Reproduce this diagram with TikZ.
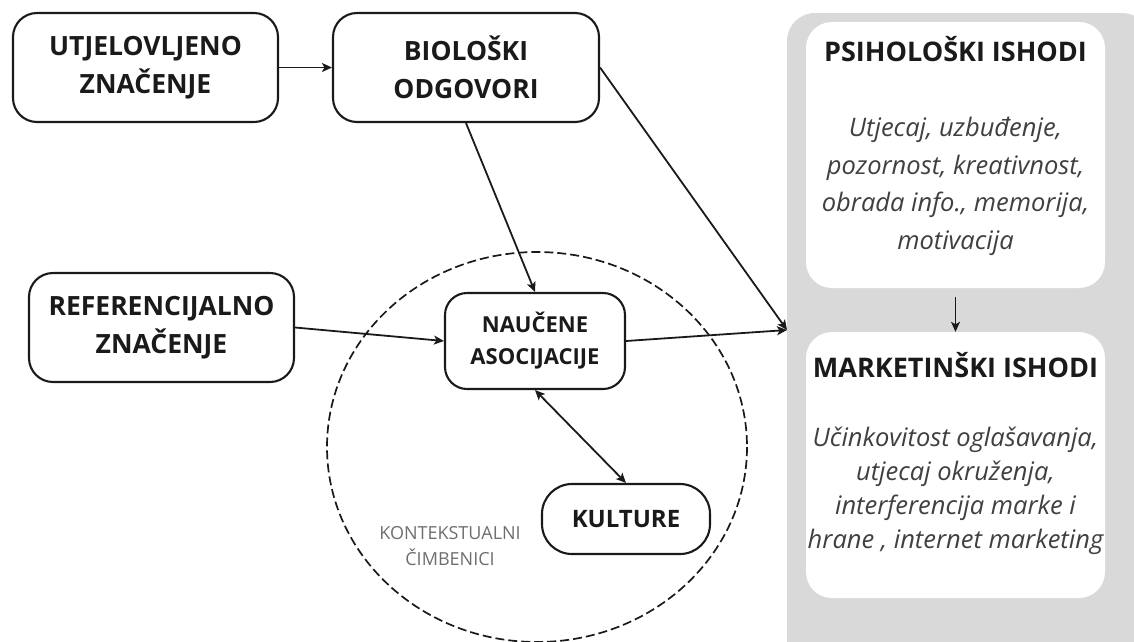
\documentclass[tikz,border=0pt]{standalone}
\usepackage{fontspec}
\setmainfont{Open Sans}
\usepackage{tikz}
\usetikzlibrary{arrows.meta}

\definecolor{panelgray}{HTML}{D9D9D9}
\definecolor{ink}{HTML}{1A1A1A}
\definecolor{bodygray}{HTML}{404040}
\definecolor{notegray}{HTML}{6E6E6E}

\tikzset{
  box/.style={draw=ink, line width=2.1pt, rounded corners=24pt, fill=white, align=center,
    inner sep=0pt, text=ink, font=\bfseries\fontsize{26.5}{38}\selectfont},
  outbox/.style={fill=white, rounded corners=26pt, inner sep=0pt,
    minimum width=299pt, minimum height=266pt},
  outtitle/.style={text=ink, font=\bfseries\fontsize{27}{30}\selectfont},
  outbody/.style={text=bodygray, align=center, font=\itshape\fontsize{25.5}{37.7}\selectfont},
  conn/.style={draw=ink, line width=1.8pt},
  >={Stealth[length=10pt,width=9pt,inset=2.5pt]}
}

\begin{document}
\begin{tikzpicture}[x=1pt,y=-1pt]
   \useasboundingbox (0,0) rectangle (1134,641);

   % outcomes panel
   \begin{scope}
      \clip (0,0) rectangle (1134,641);
      \fill[panelgray, rounded corners=28pt] (787,13) rectangle (1150,680);
   \end{scope}
   \node[outbox] (psih) at (955.5,155) {};
   \node[outbox] (mark) at (955.5,465) {};
   \node[outtitle] (psihtitle) at (955.5,49) {PSIHOLOŠKI ISHODI};
   \node[outbody] (psihbody) at (955.5,186.5) {Utjecaj, uzbuđenje,\\pozornost, kreativnost,\\obrada info., memorija,\\motivacija};
   \node[outtitle] (marktitle) at (955.5,365) {MARKETINŠKI ISHODI};
   \node[outbody, font=\itshape\fontsize{25.5}{34}\selectfont] (markbody) at (955.5,491) {Učinkovitost oglašavanja,\\utjecaj okruženja,\\interferencija marke i\\hrane , internet marketing};
   \draw[conn, line width=1.5pt, ->, shorten <=9pt] (psih.south) -- (mark.north);

   % context circle
   \draw[ink, line width=1.7pt, dash pattern=on 9pt off 4pt] (537,447) ellipse [x radius=210, y radius=195];
   \node[text=notegray, align=center, font=\fontsize{18}{26}\selectfont] (kontekst) at (450,546) {KONTEKSTUALNI\\ČIMBENICI};

   \node[box, minimum width=265pt, minimum height=109pt] (utj) at (145.5,67.5) {UTJELOVLJENO\\ZNAČENJE};
   \node[box, minimum width=266pt, minimum height=109pt] (bio) at (466,67.5) {BIOLOŠKI\\ODGOVORI};
   \node[box, minimum width=265pt, minimum height=109pt] (ref) at (161.5,327.5) {REFERENCIJALNO\\ZNAČENJE};
   \node[box, minimum width=180pt, minimum height=96pt, rounded corners=22pt,
         font=\bfseries\fontsize{22}{32}\selectfont] (nauc) at (535,341) {NAUČENE\\ASOCIJACIJE};
   \node[box, minimum width=168pt, minimum height=70pt, rounded corners=30pt,
         font=\bfseries\fontsize{24}{30}\selectfont] (kult) at (626,519) {KULTURE};

   \coordinate (panelin) at (787,330);
   \draw[conn, ->] (utj) -- (bio);
   \draw[conn, ->] (bio.south) -- (nauc.north);
   \draw[conn, ->] (bio.east) -- (panelin);
   \draw[conn, ->] (ref.east) -- (nauc.west);
   \draw[conn, ->] (nauc.east) -- (panelin);
   \draw[conn, <->] (nauc.south) -- (kult.north);
\end{tikzpicture}
\end{document}
